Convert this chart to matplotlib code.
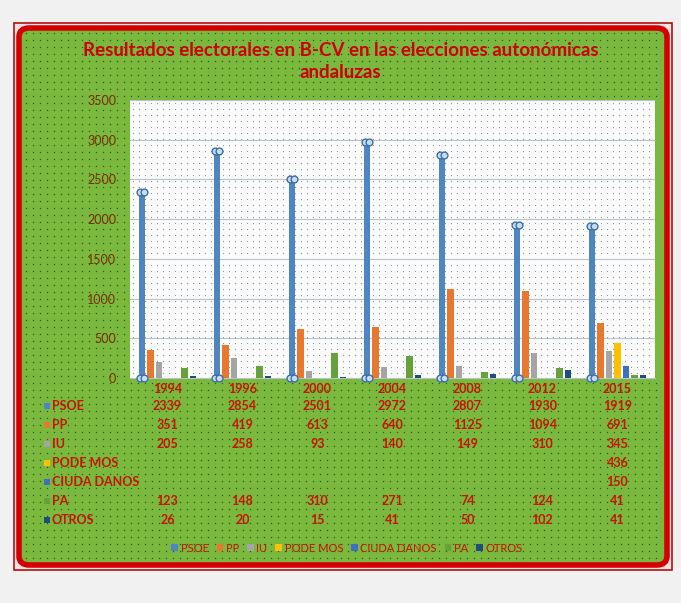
import numpy as np
import matplotlib
matplotlib.use("Agg")
import matplotlib.pyplot as plt
from matplotlib.patches import FancyBboxPatch, Rectangle
from matplotlib.lines import Line2D
from matplotlib.transforms import blended_transform_factory

plt.rcParams['font.family'] = ['Lato', 'DejaVu Sans']

# data
years = ['1994', '1996', '2000', '2004', '2008', '2012', '2015']
parties = ['PSOE', 'PP', 'IU', 'PODE MOS', 'CIUDA DANOS', 'PA', 'OTROS']
psoe = [2339, 2854, 2501, 2972, 2807, 1930, 1919]
pp = [351, 419, 613, 640, 1125, 1094, 691]
iu = [205, 258, 93, 140, 149, 310, 345]
podemos = [None, None, None, None, None, None, 436]
ciudadanos = [None, None, None, None, None, None, 150]
pa = [123, 148, 310, 271, 74, 124, 41]
otros = [26, 20, 15, 41, 50, 102, 41]
series = [psoe, pp, iu, podemos, ciudadanos, pa, otros]
colors = ['#4f86c0', '#e9782f', '#a5a5a5', '#ffc000', '#3f6fc2', '#66a23c', '#1f4e79']

W, H = 681, 603
fig = plt.figure(figsize=(W / 100, H / 100), dpi=100)
fig.patch.set_facecolor('#f1f1f1')

def fx(px):
    return px / W

def fy(py):
    return 1 - py / H

# frame: thin outer line, thick red rounded border, green fill
fig.patches.append(Rectangle((fx(14), fy(570)), fx(658), (570 - 23) / H,
                             transform=fig.transFigure, facecolor='#fbe3e3',
                             edgecolor='#b01010', lw=1.2, zorder=0))
fig.patches.append(FancyBboxPatch((fx(19), fy(565)), fx(648), (565 - 28) / H,
                                  boxstyle='round,pad=0,rounding_size=0.015',
                                  transform=fig.transFigure, facecolor='#7ab83e',
                                  edgecolor='#d40000', lw=4, zorder=0.5))

# dotted texture on the green area (outside the plot area)
gx, gy = np.meshgrid(np.arange(26, 662, 7), np.arange(33, 560, 7))
out = ~((gx > 128) & (gx < 657) & (gy > 98) & (gy < 380))
fig.add_artist(Line2D(fx(gx[out]), fy(gy[out]), ls='none', marker='s', ms=0.9,
                      mew=0, color='#2f5a16', transform=fig.transFigure, zorder=0.8))

fig.text(0.5, fy(50), 'Resultados electorales en B-CV en las elecciones autonómicas',
         ha='center', va='center', color='#d00000', fontsize=13.5, fontweight='bold')
fig.text(0.5, fy(73), 'andaluzas', ha='center', va='center', color='#d00000',
         fontsize=13.5, fontweight='bold')

ax = fig.add_axes([fx(130), fy(378), fx(655 - 130), (378 - 100) / H])
ax.set_zorder(2)
ax.set_facecolor('#fbfbfb')
px, py = np.meshgrid(np.arange(133, 655, 6), np.arange(103, 378, 6))
ax.add_artist(Line2D(fx(px.ravel()), fy(py.ravel()), ls='none', marker='s', ms=0.8,
                     mew=0, color='#8c98a4', transform=fig.transFigure, zorder=0.5))

x = np.arange(len(years))
step = 0.113
bw = 0.085
for i, (name, vals, c) in enumerate(zip(parties, series, colors)):
    xs = [xi + (i - 3) * step for xi, v in zip(x, vals) if v is not None]
    vs = [v for v in vals if v is not None]
    ax.bar(xs, vs, width=bw, color=c, zorder=3, label=name)
    if name == 'PSOE':
        for dx in (-0.022, 0.022):
            ax.scatter(np.array(xs) + dx, vs, s=24, facecolor='#c9dcef',
                       edgecolor='#3c6fa8', lw=1, zorder=4, clip_on=False)
            ax.scatter(np.array(xs) + dx, [0] * len(vs), s=24, facecolor='#c9dcef',
                       edgecolor='#3c6fa8', lw=1, zorder=4, clip_on=False)

ax.set_xlim(-0.5, 6.5)
ax.set_ylim(0, 3500)
ax.set_yticks(range(0, 3501, 500))
ax.yaxis.grid(True, color='#b8c4cc', lw=0.8, zorder=1)
ax.set_axisbelow(True)
ax.set_xticks([])
ax.tick_params(axis='y', length=0, labelsize=9, labelcolor='#7a2e00', pad=10)
for s in ax.spines.values():
    s.set_visible(False)
ax.spines['bottom'].set_visible(True)
ax.spines['bottom'].set_color('#b8c4cc')

# data table below the plot
tr = blended_transform_factory(ax.transData, fig.transFigure)
for xi, yr in zip(x, years):
    fig.text(xi, fy(389), yr, transform=tr, ha='center', va='center',
             color='#c81400', fontsize=9, fontweight='bold')
row_y = [406, 425, 444, 463, 482, 501, 520]
for name, vals, c, ry in zip(parties, series, colors, row_y):
    fig.patches.append(Rectangle((fx(44), fy(ry + 3)), fx(6), 6 / H,
                                 transform=fig.transFigure, facecolor=c, zorder=5))
    fig.text(fx(52), fy(ry), name, ha='left', va='center', color='#c81400',
             fontsize=9, fontweight='bold')
    for xi, v in zip(x, vals):
        if v is not None:
            fig.text(xi, fy(ry), str(v), transform=tr, ha='center', va='center',
                     color='#c81400', fontsize=9, fontweight='bold')

handles, labels = ax.get_legend_handles_labels()
leg = fig.legend(handles, labels, loc='center', bbox_to_anchor=(fx(347), fy(548)),
                 ncol=7, frameon=False, fontsize=8, handlelength=0.6,
                 handleheight=0.6, handletextpad=0.25, columnspacing=0.7)
for t in leg.get_texts():
    t.set_color('#c81400')

fig.savefig('out.png', dpi=100, facecolor=fig.get_facecolor())
